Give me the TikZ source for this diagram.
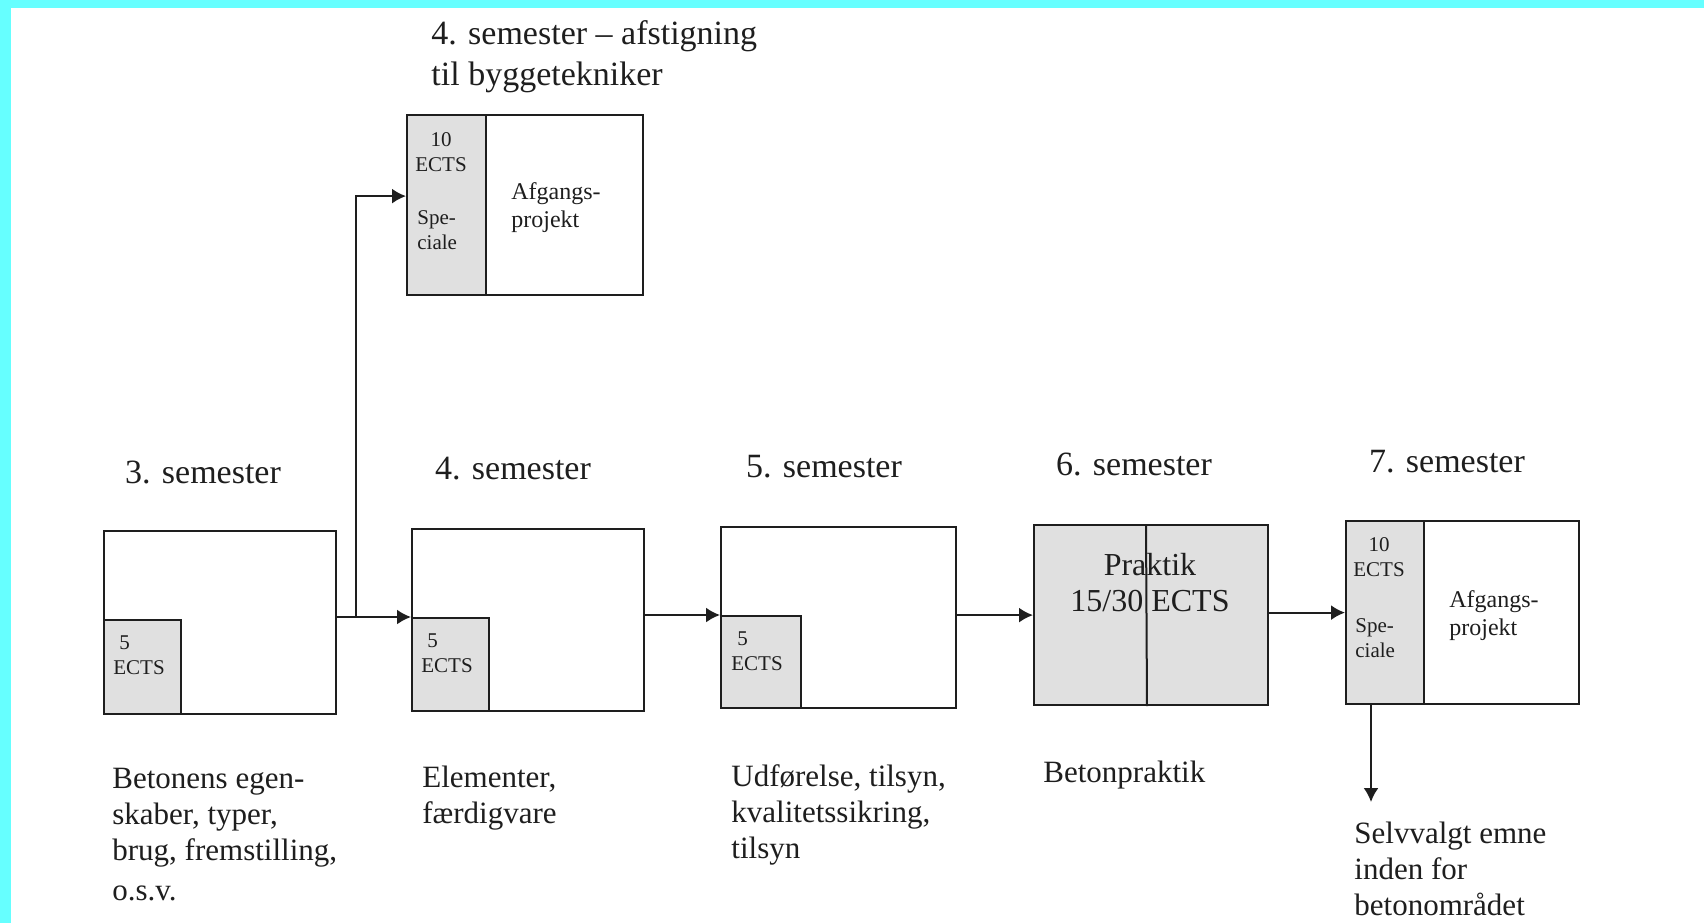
\documentclass[tikz,border=0pt]{standalone}
\usepackage{fontspec}
\setmainfont{Liberation Serif}
\usetikzlibrary{arrows.meta}
\definecolor{cyanband}{RGB}{102,255,255}
\definecolor{ink}{RGB}{30,30,30}
\definecolor{dotgray}{RGB}{224,224,224}
\begin{document}
\begin{tikzpicture}[x=0.5pt,y=-0.5pt,
  box/.style={draw=ink,line width=1.1pt,inner sep=0,anchor=north west,fill=white},
  graybox/.style={box,fill=dotgray},
  arr/.style={draw=ink,line width=1pt,-{Latex[length=7pt,width=7.5pt]}},
  semlabel/.style={font=\fontsize{17}{20}\selectfont,text=ink,inner sep=0},
  desc/.style={font=\fontsize{15.5}{18}\selectfont,text=ink,inner sep=0,align=left,anchor=north west},
  tiny/.style={font=\fontsize{10.5}{12.5}\selectfont,text=ink,inner sep=0},
  proj/.style={font=\fontsize{12}{14}\selectfont,text=ink,inner sep=0,align=left,anchor=west}
]
\useasboundingbox (0,0) rectangle (1704,923);
\fill[white] (0,0) rectangle (1704,923);
\fill[cyanband] (0,0) rectangle (1704,8);
\fill[cyanband] (0,0) rectangle (11,923);

% title
\node[semlabel,align=left,anchor=west] (title) at (431,57) {4. semester -- afstigning\\[0.5pt]til byggetekniker};

% top box
\node[box,minimum width=118pt,minimum height=90pt] (top) at (406,114) {};
\node[graybox,minimum width=39.5pt,minimum height=90pt] (gT) at (406,114) {};
\node[tiny,align=center] (gTa) at (441,152) {10\\ECTS};
\node[tiny,align=left,anchor=west] (gTb) at (417,230) {Spe-\\ciale};
\node[proj] (pT) at (511,208) {Afgangs-\\projekt};

% semester labels
\node[semlabel] (s3) at (203,472) {3. semester};
\node[semlabel] (s4) at (513,469) {4. semester};
\node[semlabel] (s5) at (824,467) {5. semester};
\node[semlabel] (s6) at (1134,464) {6. semester};
\node[semlabel] (s7) at (1447,462) {7. semester};

% semester 3
\node[box,minimum width=116pt,minimum height=91.5pt] (box3) at (103,530) {};
\node[graybox,minimum width=38.5pt,minimum height=47pt] (g3) at (103,619) {};
\node[tiny,align=left,anchor=west] (g3t) at (113,655) {\hspace{3pt}5\\ECTS};

% semester 4
\node[box,minimum width=116pt,minimum height=91pt] (box4) at (411,528) {};
\node[graybox,minimum width=38.5pt,minimum height=46.5pt] (g4) at (411,617) {};
\node[tiny,align=left,anchor=west] (g4t) at (421,653) {\hspace{3pt}5\\ECTS};

% semester 5
\node[box,minimum width=117.5pt,minimum height=90.5pt] (box5) at (720,526) {};
\node[graybox,minimum width=40pt,minimum height=46pt] (g5) at (720,615) {};
\node[tiny,align=left,anchor=west] (g5t) at (731,651) {\hspace{3pt}5\\ECTS};

% semester 6
\node[graybox,minimum width=117pt,minimum height=90pt] (box6) at (1033,524) {};
\draw[draw=ink,line width=1pt] (box6.north -| 1146,0) -- (box6.south -| 1147,0);
\node[font=\fontsize{16}{18}\selectfont,text=ink,inner sep=0,align=center] (prak) at (1150,583) {Praktik\\15/30 ECTS};

% semester 7
\node[box,minimum width=116.5pt,minimum height=91.5pt] (box7) at (1345,520) {};
\node[graybox,minimum width=39pt,minimum height=91.5pt] (g7) at (1345,520) {};
\node[tiny,align=center] (g7a) at (1379,557) {10\\ECTS};
\node[tiny,align=left,anchor=west] (g7b) at (1355,638) {Spe-\\ciale};
\node[proj] (p7) at (1449,616) {Afgangs-\\projekt};

% descriptions
\node[desc] (d3) at (112,768) {Betonens egen-\\skaber, typer,\\brug, fremstilling,\\[2pt]o.s.v.};
\node[desc] (d4) at (422,766) {Elementer,\\færdigvare};
\node[desc] (d5) at (731,764) {Udførelse, tilsyn,\\kvalitetssikring,\\tilsyn};
\node[desc] (d6) at (1043,761) {Betonpraktik};
\node[desc] (d7) at (1354,822) {Selvvalgt emne\\inden for\\betonområdet};

% connectors
\coordinate (br) at (356,617);
\coordinate (sel) at (1371,802);
\draw[arr] (box3.east |- g4.north west) -- (g4.north west);
\draw[arr] (br) |- ([yshift=4.5pt]top.west);
\draw[arr] (box4.east |- g5.north west) -- (g5.north west);
\draw[arr] (box5.east |- box6.west) -- (box6.west);
\draw[arr] (box6.east |- box7.west) -- (box7.west);
\draw[arr] (g7.south -| sel) -- (sel);
\end{tikzpicture}
\end{document}
